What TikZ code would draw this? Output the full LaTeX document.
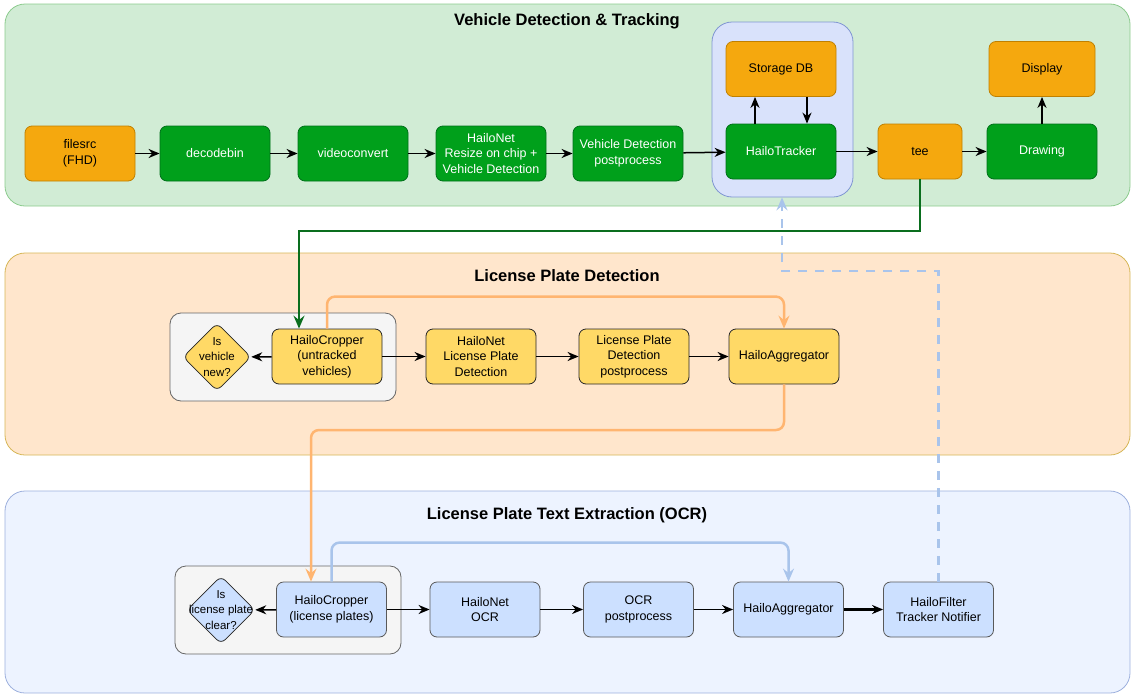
\documentclass[tikz,border=0pt]{standalone}
\usepackage{fontspec}
\setmainfont{Liberation Sans}
\usepackage{tikz}
\usetikzlibrary{arrows.meta}
\usetikzlibrary{shapes.geometric}
\definecolor{vdtfill}{HTML}{D1ECD5}
\definecolor{vdtline}{HTML}{8CCB8E}
\definecolor{lpdfill}{HTML}{FFE6CC}
\definecolor{lpdline}{HTML}{D6B656}
\definecolor{ocrfill}{HTML}{EDF3FF}
\definecolor{ocrline}{HTML}{9DB0DD}
\definecolor{trkfill}{HTML}{D9E2FB}
\definecolor{trkline}{HTML}{8096D2}
\definecolor{srcfill}{HTML}{F5A80E}
\definecolor{srcline}{HTML}{C08000}
\definecolor{elemfill}{HTML}{00A01B}
\definecolor{elemline}{HTML}{00701A}
\definecolor{lpfill}{HTML}{FFD966}
\definecolor{ocrnode}{HTML}{CCE0FF}
\definecolor{linkgreen}{HTML}{0A6E1E}
\definecolor{linkorange}{HTML}{FFB570}
\definecolor{linkblue}{HTML}{A9C4EB}
\tikzset{
    box/.style={rounded corners=7, minimum width=110, minimum height=55, inner sep=0pt,
        align=center, font=\fontsize{12.5}{15.5}\selectfont, line width=0.8},
    srcbox/.style={box, fill=srcfill, draw=srcline},
    elembox/.style={box, fill=elemfill, draw=elemline, text=white},
    lpbox/.style={box, fill=lpfill, draw=black!85},
    ocrbox/.style={box, fill=ocrnode, draw=black!65},
    greybox/.style={rounded corners=11, fill=black!4, draw=black!60, line width=0.8,
        minimum width=226, minimum height=88, inner sep=0pt},
    decision/.style={diamond, rounded corners=6, minimum width=68, minimum height=68,
        inner sep=0pt, line width=0.8, draw=black!85},
    lane/.style={rounded corners=20, line width=0.8},
    lanetitle/.style={font=\fontsize{16.5}{19}\selectfont\bfseries},
    flow/.style={line width=1.5, -{Stealth[length=11pt,width=9pt,inset=3.5pt]}},
    link/.style={line width=2.5, rounded corners=8, -{Stealth[length=13pt,width=11pt,inset=4.5pt]}}
}
\begin{document}
\begin{tikzpicture}[x=1pt,y=-1pt]
\useasboundingbox (0,0) rectangle (1136,699);
% lanes
\draw[lane, fill=vdtfill, draw=vdtline] (5,4) rectangle (1130,206);
\draw[lane, fill=lpdfill, draw=lpdline] (5,253) rectangle (1130,455);
\draw[lane, fill=ocrfill, draw=ocrline] (5,491) rectangle (1130,693);
\node[lanetitle] (vdttitle) at (567,21) {Vehicle Detection \& Tracking};
\node[lanetitle] (lpdtitle) at (567,276) {License Plate Detection};
\node[lanetitle] (ocrtitle) at (567,515) {License Plate Text Extraction (OCR)};
% groups
\node[rounded corners=20, fill=trkfill, draw=trkline, line width=0.8, minimum width=141,
    minimum height=175, inner sep=0pt] (trkgroup) at (782.5,109.5) {};
\node[greybox] (cropgroup1) at (283,357) {};
\node[greybox] (cropgroup2) at (288,610) {};
% vehicle detection & tracking
\node[srcbox] (filesrc) at (80,153.5) {filesrc\\(FHD)};
\node[elembox] (decode) at (215,153.5) {decodebin};
\node[elembox] (convert) at (353,153.5) {videoconvert};
\node[elembox] (vdnet) at (491,153.5) {HailoNet\\Resize on chip +\\Vehicle Detection};
\node[elembox] (vdpost) at (628,153.5) {Vehicle Detection\\postprocess};
\node[srcbox] (storage) at (781,69) {Storage DB};
\node[elembox] (tracker) at (781,151.5) {HailoTracker};
\node[srcbox, minimum width=84] (tee) at (920,151.5) {tee};
\node[elembox] (drawing) at (1042,151.5) {Drawing};
\node[srcbox, minimum width=106] (display) at (1042,69) {Display};
\draw[flow] (filesrc) -- (decode);
\draw[flow] (decode) -- (convert);
\draw[flow] (convert) -- (vdnet);
\draw[flow] (vdnet) -- (vdpost);
\draw[flow] (vdpost) -- (tracker);
\draw[flow] ([xshift=-26pt]tracker.north) -- ([xshift=-26pt]storage.south);
\draw[flow] ([xshift=26pt]storage.south) -- ([xshift=26pt]tracker.north);
\draw[flow] (tracker) -- (tee);
\draw[flow] (tee) -- (drawing);
\draw[flow] (drawing) -- (display);
% license plate detection
\node[decision, fill=lpfill, label={[align=center, font=\fontsize{11.5}{15.5}\selectfont]center:Is\\vehicle\\new?}] (vnew) at (217,357) {};
\node[lpbox] (crop1) at (327,356.5) {HailoCropper\\(untracked\\vehicles)};
\node[lpbox] (lpnet) at (481,356.5) {HailoNet\\License Plate\\Detection};
\node[lpbox] (lppost) at (634,356.5) {License Plate\\Detection\\postprocess};
\node[lpbox] (agg1) at (784,356.5) {HailoAggregator};
\draw[flow] (crop1) -- (vnew);
\draw[flow] (crop1) -- (lpnet);
\draw[flow] (lpnet) -- (lppost);
\draw[flow] (lppost) -- (agg1);
% text extraction
\node[decision, fill=ocrnode, label={[align=center, font=\fontsize{11.5}{15.5}\selectfont]center:Is\\license plate\\clear?}] (pclear) at (221,610) {};
\node[ocrbox] (crop2) at (331.5,609.5) {HailoCropper\\(license plates)};
\node[ocrbox] (ocrnet) at (485,609.5) {HailoNet\\OCR};
\node[ocrbox] (ocrpost) at (638.5,609.5) {OCR\\postprocess};
\node[ocrbox] (agg2) at (788.5,609.5) {HailoAggregator};
\node[ocrbox] (filter) at (938.5,609.5) {HailoFilter\\Tracker Notifier};
\draw[flow] (crop2) -- (pclear);
\draw[flow] (crop2) -- (ocrnet);
\draw[flow] (ocrnet) -- (ocrpost);
\draw[flow] (ocrpost) -- (agg2);
\draw[flow, line width=2.6] (agg2) -- (filter);
% links between stages
\coordinate (teeturn) at (299,231);
\coordinate (aggturn) at (311,430);
\coordinate (notifyturn) at (782,271);
\draw[link, linkgreen, rounded corners=0] (tee.south) |- (teeturn) -- (teeturn |- crop1.north);
\draw[link, linkorange] (crop1.north) -- ++(0,-32) -| (agg1.north);
\draw[link, linkorange] (agg1.south) |- (aggturn) -- (aggturn |- crop2.north);
\draw[link, linkblue] (crop2.north) -- ++(0,-39) -| (agg2.north);
\draw[link, linkblue, dash pattern=on 9pt off 8pt, rounded corners=0] (filter.north) |- (notifyturn) -- (notifyturn |- trkgroup.south);
\end{tikzpicture}
\end{document}
